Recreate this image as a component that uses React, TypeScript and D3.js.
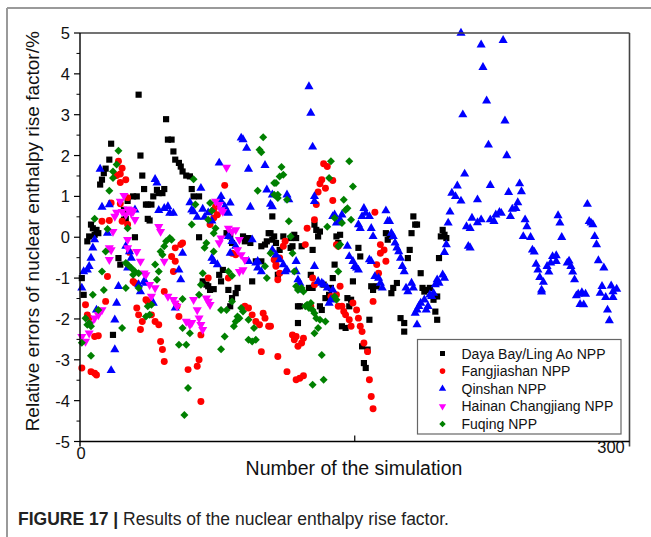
import React from "react";
import * as d3 from "d3";

type P = [number, number];

const seriesNames = [
  "Daya Bay/Ling Ao NPP",
  "Fangjiashan NPP",
  "Qinshan NPP",
  "Hainan Changjiang NPP",
  "Fuqing NPP",
];

const dayaBay: P[] = [
  [1,-1.0],[2,-1.41],[4,-0.10],[5,0.02],[6,0.31],[7,0.22],[8,0.06],[9,0.18],[10,0.10],[11,1.29],[12,1.41],[13,1.57],[14,1.68],[16,1.90],[17,2.29],[18,-2.39],[21,-0.51],[22,-0.67],[24,0.43],[24,0.67],[25,0.45],[26,0.89],[29,1.0],[30,0.0],[31,1.0],[32,3.49],[33,2.0],[34,1.51],[35,1.18],[36,0.80],[37,0.80],[37,0.45],[38,0.41],[39,0.80],[40,1.0],[42,1.16],[43,1.08],[45,1.08],[46,1.18],[47,2.89],[48,2.39],[50,2.39],[51,2.10],[52,1.90],[54,1.82],[55,1.73],[56,1.61],[58,1.51],[60,1.49],[61,1.18],[62,1.0],[65,1.0],[65,0.0],[67,-1.08],[69,-1.16],[70,-1.2],[71,-1.29],[73,-1.27],[76,-0.92],[77,-1.08],[78,-0.8],[80,0.10],[81,-1.29],[82,0.02],[82,-1.69],[83,-0.14],[83,-1.49],[85,-1.37],[86,-1.24],[89,0.02],[90,-0.10],[92,-0.02],[93,-0.14],[94,-1.08],[96,-0.59],[99,-0.59],[99,-0.22],[101,-0.18],[102,-0.10],[103,0.10],[104,0.10],[105,0.51],[105,-0.06],[106,0.02],[107,-0.14],[108,-0.92],[109,-0.31],[111,0.02],[115,-0.26],[115,-0.02],[116,-0.22],[117,0.06],[118,-0.02],[119,-1.69],[119,-2.10],[120,-1.69],[121,-0.22],[125,-1.24],[126,-0.92],[127,-1.24],[127,-0.31],[128,0.31],[129,0.18],[130,0.02],[131,0.14],[131,-1.69],[132,-1.78],[133,-1.16],[134,-1.49],[136,-1.41],[137,-1.24],[138,-1.0],[139,-0.67],[140,0.02],[141,-0.14],[142,0.06],[143,-2.18],[145,-2.22],[146,-1.49],[147,-1.69],[148,-1.53],[149,-1.08],[152,-0.26],[153,-0.47],[154,-2.67],[155,-3.08],[156,-3.2],[157,-2.75],[158,-2.02],[159,-1.2],[160,-1.29],[162,-1.2],[167,0.10],[168,-0.06],[169,0.02],[170,-1.37],[171,-1.24],[173,-1.12],[175,-1.98],[177,-2.1],[177,-2.31],[179,-0.51],[180,-0.31],[181,0.10],[182,0.51],[183,0.31],[184,0.31],[186,-0.88],[187,-1.24],[188,-1.33],[189,-1.29],[191,-1.24],[193,-1.53],[194,-1.82],[195,-2.02],[195,-1.45],[196,-0.51],[197,0.02],[198,0.18],[199,0.06],[200,-0.02],
];

const fangjiashan: P[] = [
  [1,-3.2],[3,-1.65],[4,-1.90],[5,-1.98],[6,-3.29],[8,-3.33],[8,-2.43],[9,-3.37],[10,-2.41],[12,0.39],[14,-1.57],[15,-0.96],[16,0.41],[17,0.84],[20,1.51],[21,1.86],[22,1.34],[22,1.55],[22,0.82],[23,1.69],[23,0.39],[25,1.41],[26,0.97],[26,0.31],[27,-0.37],[29,-1.08],[30,-1.12],[31,-1.73],[32,-1.9],[33,-2.26],[34,-2.06],[36,-1.53],[37,-1.57],[39,-1.9],[41,-2.06],[43,-2.14],[44,-2.55],[45,-2.75],[46,-3.04],[46,-1.33],[50,-0.47],[51,-0.84],[52,-0.59],[52,-0.26],[53,-1.69],[54,-1.94],[55,-0.18],[56,-0.14],[59,-3.24],[64,-3.16],[65,-3.0],[66,-2.39],[66,-4.02],[70,-1.0],[71,0.31],[73,0.67],[73,0.47],[74,0.75],[75,0.55],[79,1.27],[81,-1.0],[83,-0.39],[85,-0.43],[90,-1.69],[92,-1.73],[94,-1.9],[96,-2.06],[98,-2.14],[99,-2.80],[100,-1.86],[101,-1.98],[103,-2.18],[104,-2.18],[106,-0.55],[107,-0.71],[107,-0.67],[108,-1.04],[108,-2.92],[109,-0.51],[109,-0.88],[111,-0.22],[112,-0.10],[113,-3.29],[116,-2.39],[117,-2.51],[118,-2.43],[118,-3.49],[119,-2.67],[120,-3.45],[121,-2.59],[122,-2.47],[122,-3.39],[123,-0.18],[124,0.22],[126,-1.69],[127,-1.0],[128,-1.16],[128,0.43],[129,0.80],[130,1.11],[131,1.31],[132,1.41],[133,1.8],[134,1.2],[135,1.73],[137,-1.45],[138,1.39],[138,0.90],[140,-1.41],[140,-0.18],[141,-0.22],[141,-1.69],[142,-1.2],[143,-1.69],[144,-1.82],[145,-1.9],[147,-2.02],[148,-2.18],[149,-1.61],[151,-1.78],[152,-1.98],[153,-2.18],[154,-2.31],[155,-2.59],[157,-2.8],[158,-3.49],[159,-3.9],[160,-4.2],[160,-1.57],[161,0.61],[162,-0.67],[163,-0.88],[164,-0.39],[164,-0.18],[166,-0.31],[167,-0.59],
];

const qinshan: P[] = [
  [1,-1.24],[2,-0.84],[4,-0.8],[5,-0.71],[6,-0.51],[7,-0.26],[8,-0.06],[9,-1.78],[11,1.67],[12,0.74],[15,0.1],[16,0.8],[17,-3.26],[19,-2.02],[19,-2.75],[20,-1.61],[21,-1.2],[25,-0.22],[26,-0.75],[27,-0.35],[28,-0.51],[30,0.67],[32,-1.16],[33,-1.33],[35,-1.08],[36,-1.12],[40,-1.61],[41,1.42],[42,1.33],[43,0.66],[46,0.71],[48,0.75],[49,0.59],[51,0.59],[52,-1.73],[54,-0.8],[55,-1.04],[56,-0.39],[60,0.85],[61,0.67],[62,0.63],[64,0.49],[66,1.2],[67,0.69],[68,0.49],[70,0.6],[72,0.4],[72,-0.51],[73,-0.59],[75,-0.67],[76,1.82],[77,1.0],[77,0.88],[79,0.75],[80,0.61],[81,0.59],[82,0.84],[81,0.02],[83,-0.1],[85,-0.22],[82,-0.39],[88,2.43],[89,2.39],[91,2.18],[92,1.67],[93,0.74],[94,-0.06],[92,-0.59],[96,-0.63],[97,-0.59],[97,-0.75],[99,-0.84],[101,1.76],[102,1.16],[105,1.04],[104,0.81],[105,0.75],[105,-0.31],[107,-0.43],[109,-0.55],[111,-0.67],[112,-0.84],[113,-0.80],[113,1.04],[114,0.92],[118,-0.59],[118,-0.84],[119,-1.04],[120,-1.12],[121,-1.29],[125,3.69],[126,3.04],[127,2.21],[128,1.0],[128,0.88],[128,-0.71],[130,-1.08],[132,-1.12],[133,-1.16],[135,-1.24],[136,-1.61],[137,-1.53],[138,-1.29],[138,0.51],[139,0.55],[140,0.35],[142,0.43],[143,0.55],[146,-0.22],[147,-0.47],[149,-0.59],[150,-0.71],[151,-0.75],[152,-0.8],[152,0.31],[153,0.22],[154,0.51],[155,0.71],[156,0.59],[158,0.51],[159,0.22],[160,0.02],[158,-0.55],[159,-0.59],[161,-0.96],[163,-1.0],[164,-1.12],[165,-1.24],[167,0.65],[168,0.39],[169,0.39],[170,0.1],[171,0.02],[172,-0.14],[173,-0.26],[174,-0.35],[175,-0.51],[176,-0.71],[177,-0.84],[178,-1.24],[179,-1.33],[181,-1.12],[182,-1.24],[183,-1.86],[184,-1.78],[185,-1.69],[186,-1.61],[188,-1.53],[189,-1.78],[190,-1.69],[191,-1.41],[192,-1.45],[193,-1.37],[194,-1.16],[195,-1.04],[196,-1.12],[198,-0.92],[199,-1.0],[184,-2.14],[199,-0.37],[200,-0.18],[201,0.35],[202,0.62],[203,1.08],[205,1.0],[206,1.26],[208,0.89],[208,5.0],[209,3.0],[210,1.55],[211,0.26],[212,-0.22],[213,-0.26],[213,0.22],[214,0.47],[217,0.36],[217,0.92],[219,4.71],[219,0.43],[220,4.16],[222,3.34],[223,2.26],[224,1.27],[224,0.43],[226,0.39],[227,0.55],[229,0.61],[230,0.59],[231,4.82],[232,2.85],[233,2.0],[234,1.10],[235,0.51],[236,0.69],[238,0.71],[239,0.85],[240,1.31],[241,1.12],[242,0.02],[243,0.43],[244,0.26],[246,0.0],[247,-0.31],[248,-0.36],[249,-0.66],[250,-0.8],[251,-0.98],[252,-1.29],[252,-1.34],[253,-1.10],[255,-0.71],[256,-0.85],[257,-0.63],[258,-0.47],[260,-0.59],[260,-0.45],[261,0.53],[262,0.35],[263,0.0],[266,-0.63],[267,-0.58],[268,-0.71],[269,-0.85],[270,-1.04],[271,-1.43],[272,-1.39],[273,-1.64],[274,-1.35],[275,-1.65],[276,-1.39],[277,0.81],[278,0.39],[279,0.35],[280,0.31],[281,0.02],[282,-0.18],[283,-0.57],[284,-1.37],[285,-1.2],[286,-0.75],[287,-1.47],[288,-1.78],[289,-2.04],[290,-1.19],[291,-1.47],[291,-1.33],[293,-1.27],
];

const hainan: P[] = [
  [1,-2.43],[3,-2.55],[5,-2.35],[6,-2.1],[8,-1.98],[10,-1.9],[12,-1.78],[16,-0.26],[17,-0.31],[16,-0.55],[18,0.14],[19,0.51],[20,0.61],[22,0.88],[23,0.63],[24,1.02],[25,0.55],[26,0.69],[27,0.67],[28,0.66],[28,0.59],[29,0.63],[30,0.43],[26,-0.06],[26,-0.26],[31,-0.35],[33,-0.59],[35,-0.88],[36,-0.92],[38,-1.16],[41,-1.24],[39,-1.45],[43,0.26],[44,0.14],[46,-0.59],[48,-1.45],[51,-1.53],[52,-1.61],[53,-1.69],[58,-2.06],[60,-2.14],[61,-2.09],[62,-1.53],[64,-1.78],[65,-1.98],[66,-2.14],[67,-2.26],[69,-1.49],[70,-1.57],[71,-1.65],[74,0.88],[76,0.80],[77,0.67],[78,0.63],[80,1.71],[81,0.22],[83,0.14],[85,0.18],[87,-0.06],[86,-0.31],[88,-0.43],[90,-0.55],[87,-0.84],[89,-0.8],[76,-0.14],[77,-0.02],
];

const fuqing: P[] = [
  [1,-2.58],[3,-1.98],[4,-2.14],[5,-2.10],[6,-2.18],[6,-2.9],[7,-1.41],[8,0.45],[10,-1.78],[12,-0.84],[13,-1.29],[14,-0.35],[15,0.2],[16,1.14],[18,1.45],[18,1.61],[20,1.78],[21,2.12],[23,-2.22],[25,-0.63],[25,-1.24],[26,0.22],[26,-0.67],[28,-0.75],[29,-0.92],[30,-0.84],[32,-0.88],[32,-1.24],[36,-1.94],[37,-1.69],[38,-1.9],[39,-1.65],[41,-0.67],[42,-1.04],[43,-0.84],[44,-0.35],[45,-0.43],[46,-0.22],[47,-0.10],[49,-0.02],[50,-0.06],[54,-2.63],[56,-1.51],[56,-2.22],[57,-4.35],[58,-2.63],[59,-3.69],[60,-2.35],[61,0.31],[62,1.42],[63,0.80],[65,-1.41],[66,-1.16],[67,-0.88],[68,-0.26],[69,-0.14],[70,0.43],[71,0.84],[72,0.65],[73,0.10],[73,-0.35],[74,0.22],[77,-1.78],[77,-2.74],[79,-2.43],[80,-1.78],[81,-0.84],[83,-1.57],[83,-0.94],[84,-2.18],[85,-2.06],[86,-1.94],[87,-1.98],[88,-1.73],[89,-1.82],[92,-2.51],[92,-2.02],[94,-2.55],[95,-2.22],[96,-2.51],[97,1.14],[98,2.14],[99,2.08],[100,2.45],[102,-1.0],[101,-0.71],[104,-0.39],[106,1.33],[106,1.04],[107,1.33],[108,1.04],[109,1.49],[108,0.96],[110,1.72],[111,1.53],[113,0.92],[114,0.39],[115,0.02],[116,-0.39],[117,-0.84],[118,-1.2],[119,-1.29],[121,-1.24],[122,-1.33],[123,-1.69],[124,-1.65],[125,-1.73],[126,-1.61],[127,-1.78],[127,-3.61],[128,-1.86],[128,-2.35],[129,-1.98],[130,-2.22],[131,-2.02],[132,-2.88],[133,-3.49],[134,-2.06],[135,0.26],[136,1.45],[137,1.86],[139,0.47],[139,-1.45],[140,-1.53],[141,-0.22],[141,-0.84],[142,-0.18],[143,0.35],[144,0.92],[145,0.67],[146,0.71],[147,1.86],[148,0.43],[149,1.24],
];

const yTicks = [5, 4, 3, 2, 1, 0, -1, -2, -3, -4, -5];
const xTickLabels = ["0", "300"];
const xTitle = "Number of the simulation";
const yTitle = "Relative errors of nuclear enthalpy rise factor/%";
const captionBold = "FIGURE 17 |";
const captionText = " Results of the nuclear enthalpy rise factor.";

const FONT = "'Liberation Sans', Arial, Helvetica, sans-serif";

const colors = ["#000000", "#ff0000", "#0000ff", "#ff00ff", "#008000"];
const allSeries = [dayaBay, fangjiashan, qinshan, hainan, fuqing];

const L = 80, R = 629.5, T = 33, B = 441.5;

export default function App() {
  const x = d3.scaleLinear().domain([0, 300]).range([L, R]);
  const y = d3.scaleLinear().domain([-5, 5]).range([B, T]);

  const symbolPath = (k: number, scale = 1) => {
    const sym = [d3.symbolSquare, d3.symbolCircle, d3.symbolTriangle, d3.symbolTriangle, d3.symbolSquare][k];
    const size = [38, 38, 36, 36, 32][k] * scale;
    return d3.symbol().type(sym).size(size)() as string;
  };
  const symbolRot = [0, 0, 0, 180, 45];

  const minorY = d3.range(-4.5, 5, 1);

  return (
    <svg width={651} height={537} style={{ position: "absolute", left: 0, top: 0 }}>
      <rect width={651} height={537} fill="#fff" />
      {/* outer frame */}
      <line x1={7} y1={8} x2={651} y2={8} stroke="#9a9a9a" strokeWidth={2} />
      <line x1={7} y1={8} x2={7} y2={537} stroke="#9a9a9a" strokeWidth={2} />

      {/* markers */}
      <g>
        {allSeries.map((s, k) => (
          <g key={k} fill={colors[k]}>
            {s.map((p, i) => (
              <path
                key={i}
                d={symbolPath(k)}
                transform={`translate(${x(p[0])},${y(p[1])}) rotate(${symbolRot[k]})`}
              />
            ))}
          </g>
        ))}
      </g>

      {/* plot frame */}
      <line x1={L} y1={T} x2={R} y2={T} stroke="#444" strokeWidth={1.6} />
      <line x1={R} y1={T} x2={R} y2={B + 5} stroke="#444" strokeWidth={1.6} />
      <line x1={L} y1={T} x2={L} y2={B + 5} stroke="#000" strokeWidth={1.4} />
      <line x1={L} y1={B} x2={R} y2={B} stroke="#000" strokeWidth={1.4} />

      {/* y ticks */}
      {yTicks.map((v) => (
        <g key={v}>
          <line x1={L - 6} x2={L} y1={y(v)} y2={y(v)} stroke="#000" strokeWidth={1.2} />
          <text x={70} y={y(v) + 6} textAnchor="end" fontFamily={FONT} fontSize={16.5} fill="#111">
            {v}
          </text>
        </g>
      ))}
      {minorY.map((v) => (
        <line key={"m" + v} x1={L - 3.5} x2={L} y1={y(v)} y2={y(v)} stroke="#000" strokeWidth={1} />
      ))}

      {/* x ticks */}
      <line x1={x(150)} x2={x(150)} y1={B} y2={B - 6} stroke="#000" strokeWidth={1.2} />
      <text x={x(0) + 1} y={459} textAnchor="middle" fontFamily={FONT} fontSize={16.5} fill="#111">
        {xTickLabels[0]}
      </text>
      <text x={611} y={453} textAnchor="middle" fontFamily={FONT} fontSize={16.5} fill="#111">
        {xTickLabels[1]}
      </text>

      <text x={354} y={475} textAnchor="middle" fontFamily={FONT} fontSize={19.5} fill="#111">
        {xTitle}
      </text>
      <text
        transform={`translate(39,${(T + B) / 2 - 6}) rotate(-90)`}
        textAnchor="middle"
        fontFamily={FONT}
        fontSize={19}
        fill="#111"
      >
        {yTitle}
      </text>

      {/* legend */}
      <rect x={417.5} y={339.5} width={203.5} height={94.5} fill="#fff" stroke="#666" strokeWidth={1.2} />
      {seriesNames.map((n, k) => {
        const cy = 353.5 + k * 17.6;
        return (
          <g key={n}>
            <path
              d={symbolPath(k, 0.65)}
              fill={colors[k]}
              transform={`translate(442.5,${cy}) rotate(${symbolRot[k]})`}
            />
            <text x={461.5} y={cy + 5} fontFamily={FONT} fontSize={14} fill="#111">
              {n}
            </text>
          </g>
        );
      })}

      {/* caption */}
      <text x={18} y={525} fontFamily={FONT} fontSize={17.5} fill="#222">
        <tspan fontWeight="bold">{captionBold}</tspan>
        <tspan>{captionText}</tspan>
      </text>
    </svg>
  );
}
